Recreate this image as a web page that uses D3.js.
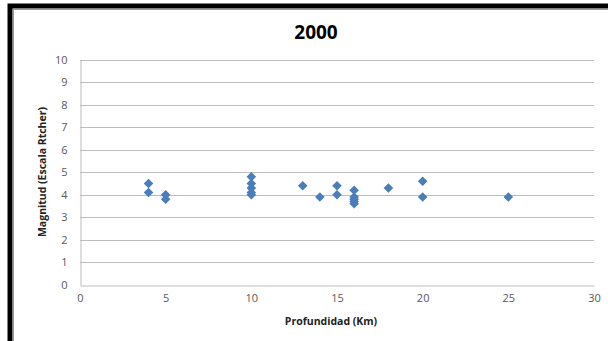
<!DOCTYPE html>
<html><head><meta charset="utf-8">
<script src="https://cdn.jsdelivr.net/npm/d3@7"></script>
<style>
html,body{margin:0;padding:0;background:#fff;}
svg{display:block;font-family:"Open Sans","Liberation Sans",sans-serif;}
</style></head>
<body><svg id="c" width="608" height="341"></svg>
<script>
const title = "2000";
const xTitle = "Profundidad (Km)";
const yTitle = "Magnitud (Escala Rtcher)";
const xTicks = [0,5,10,15,20,25,30];
const yTicks = [0,1,2,3,4,5,6,7,8,9,10];
const depth =     [4,  4,  5,  5,  10, 10, 10, 10, 10, 13, 14, 15, 15, 16, 16, 16, 16, 16, 18, 20, 20, 25];
const magnitude = [4.5,4.1,4.0,3.8,4.8,4.5,4.3,4.1,4.0,4.4,3.9,4.4,4.0,4.2,3.9,3.8,3.7,3.6,4.3,4.6,3.9,3.9];

const svg = d3.select("#c");
// frame
svg.append("rect").attr("x",10).attr("y",6).attr("width",640).attr("height",400)
  .attr("fill","none").attr("stroke","#000").attr("stroke-width",5);
svg.append("rect").attr("x",13.5).attr("y",9.5).attr("width",640).attr("height",400)
  .attr("fill","none").attr("stroke","#9a9a9a").attr("stroke-width",1);

const x = d3.scaleLinear().domain([0,30]).range([80,594]);
const y = d3.scaleLinear().domain([0,10]).range([285,59.5]);

// gridlines
svg.append("g").selectAll("line").data(yTicks.filter(d=>d>0)).join("line")
  .attr("x1",80).attr("x2",594).attr("y1",d=>Math.round(y(d))+0.5).attr("y2",d=>Math.round(y(d))+0.5)
  .attr("stroke","#bdbdbd").attr("stroke-width",1);

// axes
const xAxis = d3.axisBottom(x).tickValues(xTicks).tickSize(0).tickPadding(9);
const gx = svg.append("g").attr("transform","translate(0,285.5)").call(xAxis);
gx.select(".domain").attr("stroke","#bdbdbd");
gx.selectAll("text").attr("fill","#595959").attr("font-size",11).attr("font-family","Open Sans, sans-serif");

const yAxis = d3.axisLeft(y).tickValues(yTicks).tickSize(0).tickPadding(13);
const gy = svg.append("g").attr("transform","translate(80.5,0)").call(yAxis);
gy.select(".domain").attr("stroke","#bdbdbd");
gy.selectAll("text").attr("fill","#595959").attr("font-size",11).attr("font-family","Open Sans, sans-serif");

// points
const sym = d3.symbol().type(d3.symbolSquare).size(46);
svg.append("g").selectAll("path").data(depth.map((d,i)=>[d,magnitude[i]])).join("path")
  .attr("d",sym)
  .attr("transform",d=>`translate(${x(d[0])},${y(d[1])}) rotate(45)`)
  .attr("fill","#4a7ebb");

// titles
svg.append("text").attr("x",316).attr("y",39).attr("text-anchor","middle")
  .attr("font-size",19).attr("font-weight","bold").attr("fill","#000").text(title);
svg.append("text").attr("x",331).attr("y",325).attr("text-anchor","middle")
  .attr("font-size",10.5).attr("font-weight","bold").attr("fill","#222").text(xTitle);
svg.append("text").attr("transform","translate(46,172) rotate(-90)").attr("text-anchor","middle")
  .attr("font-size",10.5).attr("font-weight","bold").attr("fill","#222").text(yTitle);
</script></body></html>
